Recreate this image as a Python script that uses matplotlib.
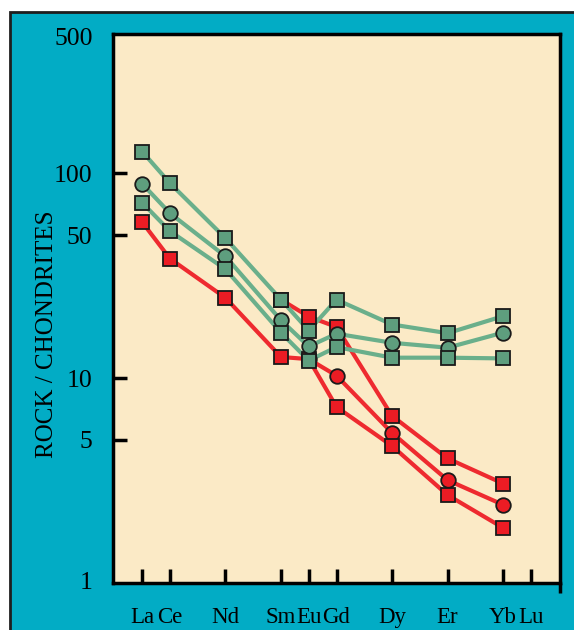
import numpy as np
import matplotlib
matplotlib.use('Agg')
import matplotlib.pyplot as plt
from matplotlib.patches import Rectangle

plt.rcParams['font.family'] = ['Liberation Serif', 'DejaVu Serif']

# Element labels and their atomic numbers (x scale)
elements = ['La', 'Ce', 'Nd', 'Sm', 'Eu', 'Gd', 'Dy', 'Er', 'Yb', 'Lu']
atomic_no = [57, 58, 60, 62, 63, 64, 66, 68, 70, 71]

# Chondrite-normalised values, La..Yb (nan = not plotted)
nan = np.nan
green_sq_hi = [128, 89.7, 48.3, 24.2, 17.1, 24.2, 18.3, 16.6, 20.1]
green_circ = [89.1, 64.0, 39.4, 19.2, 14.3, 16.5, 14.9, 14.1, 16.7]
green_sq_lo = [72.0, 52.3, 34.1, 16.7, 12.2, 14.2, 12.6, 12.6, 12.5]
red_sq_hi = [nan, nan, nan, 24.2, 20.0, 17.8, 6.55, 4.06, 3.06]
red_circ = [nan, nan, nan, nan, 12.4, 10.3, 5.41, 3.18, 2.41]
red_sq_lo = [57.9, 38.4, 24.7, 12.7, 12.4, 7.24, 4.67, 2.69, 1.86]

y_ticks = [5, 10, 50, 100]

teal = '#02acc5'
cream = '#fbeac6'
green_face = '#5e9e7e'
green_line = '#6aaf8b'
red_face = '#ec1c24'
red_line = '#ee2a2f'

fig = plt.figure(figsize=(5.74, 6.30), dpi=100)
fig.patch.set_facecolor('white')
# teal panel with dark border (top and left)
fig.patches.append(Rectangle((10 / 574, -0.05), 1.0, (630 - 12) / 630 + 0.05,
                             transform=fig.transFigure, facecolor=teal,
                             edgecolor='#1e1e1e', linewidth=2.0, zorder=-10))

ax = fig.add_axes([113 / 574, 47 / 630, 447 / 574, 549 / 630])
ax.set_zorder(5)
ax.set_facecolor(cream)
ax.set_yscale('log')
ax.set_ylim(1, 480)
ax.set_xlim(55.95, 72.05)

x = atomic_no[:9]
series = [
    (red_sq_hi, 's', red_face, red_line),
    (red_circ, 'o', red_face, red_line),
    (red_sq_lo, 's', red_face, red_line),
    (green_sq_hi, 's', green_face, green_line),
    (green_circ, 'o', green_face, green_line),
    (green_sq_lo, 's', green_face, green_line),
]
# lines first, then markers on top
for vals, m, fc, lc in series:
    ax.plot(x, vals, color=lc, linewidth=3.0, zorder=2, solid_capstyle='round')
for vals, m, fc, lc in series:
    ax.plot(x, vals, linestyle='none', marker=m, markersize=10 if m == 's' else 10.5,
            markerfacecolor=fc, markeredgecolor='#1a1a1a', markeredgewidth=1.3, zorder=3)

for s in ax.spines.values():
    s.set_linewidth(2.5)
    s.set_color('black')
# right frame line runs a little below the bottom axis
ax.plot([1, 1], [0, -0.018], transform=ax.transAxes, color='black',
        linewidth=2.5, clip_on=False, solid_capstyle='butt')

ax.set_yticks(y_ticks)
ax.set_yticklabels([str(v) for v in y_ticks])
ax.yaxis.set_minor_locator(matplotlib.ticker.NullLocator())
ax.tick_params(axis='y', direction='in', length=10, width=2.5, pad=15, labelsize=18.5)
ax.set_xticks(atomic_no)
ax.set_xticklabels(elements)
ax.tick_params(axis='x', direction='in', length=10, width=2.5, pad=17, labelsize=16.5)
ax.tick_params(top=False, right=False)

# labels at the ends of the log axis (no tick marks there)
ax.text(-0.045, 0.99, '500', transform=ax.transAxes, ha='right', va='center', fontsize=18.5)
ax.text(-0.045, 0.0, '1', transform=ax.transAxes, ha='right', va='center', fontsize=18.5)

fig.text(47 / 574, 1 - 334 / 630, 'ROCK / CHONDRITES', rotation=90,
         ha='center', va='center', fontsize=18)

fig.savefig('out.png', dpi=100)
